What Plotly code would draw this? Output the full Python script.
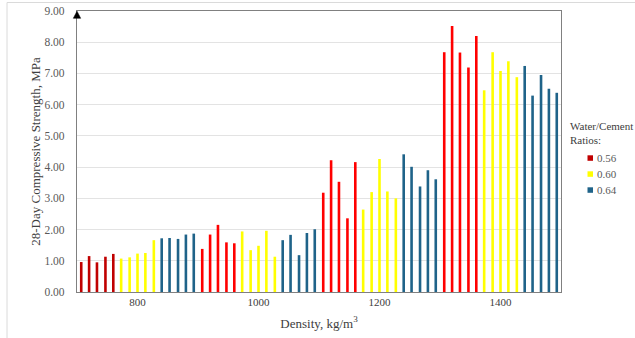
import plotly.graph_objects as go

# ---- data ----
red_density = [707, 720, 733, 747, 760, 907, 920, 933, 947, 960,
               1107, 1120, 1133, 1147, 1160, 1307, 1320, 1333, 1347, 1360]
red_strength = [0.96, 1.15, 0.95, 1.13, 1.22, 1.38, 1.84, 2.15, 1.59, 1.56,
                3.18, 4.22, 3.53, 2.36, 4.16, 7.68, 8.52, 7.67, 7.19, 8.20]

yellow_density = [773, 787, 800, 813, 827, 973, 987, 1000, 1013, 1027,
                  1173, 1187, 1200, 1213, 1227, 1373, 1387, 1400, 1413, 1427]
yellow_strength = [1.07, 1.11, 1.23, 1.25, 1.66, 1.94, 1.34, 1.48, 1.96, 1.13,
                   2.64, 3.20, 4.26, 3.22, 3.00, 6.46, 7.68, 7.08, 7.39, 6.88]

blue_density = [840, 853, 867, 880, 893, 1040, 1053, 1067, 1080, 1093,
                1240, 1253, 1267, 1280, 1293, 1440, 1453, 1467, 1480, 1493]
blue_strength = [1.72, 1.73, 1.70, 1.84, 1.87, 1.66, 1.83, 1.18, 1.89, 2.01,
                 4.41, 4.01, 3.38, 3.90, 3.61, 7.24, 6.29, 6.95, 6.51, 6.38]

series_names = ["0.56", "0.60", "0.64"]
legend_title = "Water/Cement<br>Ratios:"
y_ticks = [0, 1, 2, 3, 4, 5, 6, 7, 8, 9]
x_ticks = [800, 1000, 1200, 1400]

# ---- styles ----
series_colors = ["#C00000", "#FFFF00", "#1F6389"]
red_colors = ["#C00000"] * 5 + ["#FF0000"] * 15
FONT = "Liberation Serif, Times New Roman, serif"
BAR_W = 4.3

fig = go.Figure()
fig.add_trace(go.Bar(x=red_density, y=red_strength, width=BAR_W, name=series_names[0],
                     marker=dict(color=red_colors, line_width=0)))
fig.add_trace(go.Bar(x=yellow_density, y=yellow_strength, width=BAR_W, name=series_names[1],
                     marker=dict(color=series_colors[1], line_width=0)))
fig.add_trace(go.Bar(x=blue_density, y=blue_strength, width=BAR_W, name=series_names[2],
                     marker=dict(color=series_colors[2], line_width=0)))

# legend drawn as annotations + small squares (paper coords; plot area 77..561 x 11..292 px)
PW, PH, L, T = 484.0, 281.0, 77.0, 11.0
def px(xp):
    return (xp - L) / PW
def py(yp):
    return 1 - (yp - T) / PH

annotations = [dict(text=legend_title, xref="paper", yref="paper", x=px(568), y=py(118),
                    xanchor="left", yanchor="top", align="left", showarrow=False,
                    font=dict(family=FONT, size=11, color="#404040"))]
shapes = []
for i, (nm, col) in enumerate(zip(series_names, series_colors)):
    yc = 158 + 16 * i
    annotations.append(dict(text=nm, xref="paper", yref="paper", x=px(595), y=py(yc),
                            xanchor="left", yanchor="middle", showarrow=False,
                            font=dict(family=FONT, size=11, color="#595959")))
    shapes.append(dict(type="rect", xref="paper", yref="paper",
                       x0=px(587.5), x1=px(593), y0=py(yc + 2.8), y1=py(yc - 2.7),
                       fillcolor=col, line=dict(width=0)))

shapes += [
    # outer frame (top and left edges visible)
    dict(type="line", xref="paper", yref="paper", x0=px(7), x1=px(640), y0=py(2.5), y1=py(2.5),
         line=dict(color="#DADADA", width=1)),
    dict(type="line", xref="paper", yref="paper", x0=px(7), x1=px(7), y0=py(2.5), y1=py(345),
         line=dict(color="#DADADA", width=1)),
    # arrowhead on the y axis
    dict(type="path", xref="paper", yref="paper",
         path=f"M {px(73.3)},{py(18.3)} L {px(80.7)},{py(18.3)} L {px(77)},{py(11.2)} Z",
         fillcolor="#000000", line=dict(color="#000000", width=0.5)),
]

fig.update_layout(
    width=635, height=338,
    margin=dict(l=77, r=74, t=11, b=46, autoexpand=False),
    paper_bgcolor="white", plot_bgcolor="white",
    font=dict(family=FONT, color="#595959", size=11),
    barmode="overlay",
    showlegend=False,
    xaxis=dict(
        range=[700, 1500], tickvals=x_ticks, ticktext=[str(v) for v in x_ticks],
        showgrid=False, zeroline=False, automargin=False,
        showline=True, mirror=True, linecolor="#808080", linewidth=1.2,
        ticks="", tickfont=dict(family=FONT, size=11, color="#404040"),
        title=dict(text="Density, kg/m<sup>3</sup>", font=dict(family=FONT, size=13, color="#404040"),
                   standoff=11),
    ),
    yaxis=dict(
        range=[0, 9], tickvals=y_ticks, ticktext=[f"{v:.2f}" for v in y_ticks],
        showgrid=True, gridcolor="#E3E3E3", gridwidth=1, zeroline=False, automargin=False,
        showline=True, mirror=True, linecolor="#808080", linewidth=1.2,
        ticks="", ticklabelstandoff=9, tickfont=dict(family=FONT, size=11.5, color="#595959"),
        title=dict(text="28-Day Compressive Strength, MPa", font=dict(family=FONT, size=13, color="#404040"),
                   standoff=0),
    ),
    annotations=annotations,
    shapes=shapes,
)

fig.write_html("out.html", config={"displayModeBar": False},
               post_script="document.body.style.margin='0px';")
